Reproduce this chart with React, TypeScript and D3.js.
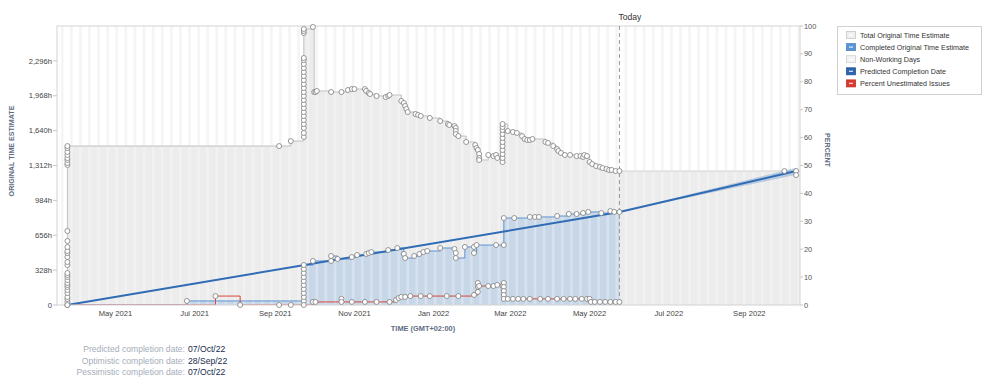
import React from 'react';
import * as d3 from 'd3';

type Pt = [string, number];

const xDomain = ['2021-03-17', '2022-10-10'];
const todayDate = '2022-05-24';
const hourTicks = [0, 328, 656, 984, 1312, 1640, 1968, 2296];
const hourMax = 2624;
const percentTicks = [0, 10, 20, 30, 40, 50, 60, 70, 80, 90, 100];

const totalEstimate: Pt[] = [
  ['2021-03-25', 0], ['2021-03-25', 28], ['2021-03-25', 56], ['2021-03-25', 75], ['2021-03-25', 113], ['2021-03-25', 141],
  ['2021-03-25', 169], ['2021-03-25', 188], ['2021-03-25', 207], ['2021-03-25', 235], ['2021-03-25', 263], ['2021-03-25', 282],
  ['2021-03-25', 301], ['2021-03-25', 376], ['2021-03-25', 404], ['2021-03-25', 451], ['2021-03-25', 489], ['2021-03-25', 508],
  ['2021-03-25', 545], ['2021-03-25', 602], ['2021-03-25', 696], ['2021-03-25', 1317], ['2021-03-25', 1336], ['2021-03-25', 1364],
  ['2021-03-25', 1382], ['2021-03-25', 1411], ['2021-03-25', 1439], ['2021-03-25', 1476], ['2021-03-25', 1495],
  ['2021-09-04', 1495], ['2021-09-13', 1542],
  ['2021-09-23', 1580], ['2021-09-23', 1618], ['2021-09-23', 1665], ['2021-09-23', 1702], ['2021-09-23', 1740], ['2021-09-23', 1778],
  ['2021-09-23', 1815], ['2021-09-23', 1853], ['2021-09-23', 1890], ['2021-09-23', 1928], ['2021-09-23', 1966], ['2021-09-23', 2003],
  ['2021-09-23', 2041], ['2021-09-23', 2078], ['2021-09-23', 2116], ['2021-09-23', 2154], ['2021-09-23', 2191], ['2021-09-23', 2229],
  ['2021-09-23', 2267], ['2021-09-23', 2304], ['2021-09-23', 2323], ['2021-09-23', 2558], ['2021-09-23', 2577], ['2021-09-23', 2596],
  ['2021-09-30', 2615], ['2021-10-01', 2003], ['2021-10-02', 2003], ['2021-10-03', 2013], ['2021-10-14', 2003], ['2021-10-22', 2003],
  ['2021-10-27', 2022], ['2021-10-30', 2031], ['2021-11-01', 2031], ['2021-11-09', 2031], ['2021-11-10', 2013], ['2021-11-12', 1994],
  ['2021-11-13', 1984], ['2021-11-18', 1966], ['2021-11-25', 1956], ['2021-11-27', 1966], ['2021-11-28', 1975], ['2021-12-07', 1919],
  ['2021-12-09', 1900], ['2021-12-10', 1872], ['2021-12-11', 1843], ['2021-12-12', 1815], ['2021-12-18', 1796], ['2021-12-20', 1787],
  ['2021-12-22', 1778], ['2021-12-29', 1759], ['2022-01-06', 1730], ['2022-01-12', 1702], ['2022-01-13', 1693], ['2022-01-17', 1683],
  ['2022-01-18', 1665], ['2022-01-18', 1637], ['2022-01-18', 1608], ['2022-01-20', 1589], ['2022-01-26', 1533], ['2022-02-02', 1505],
  ['2022-02-03', 1476], ['2022-02-04', 1458], ['2022-02-05', 1420], ['2022-02-05', 1383], ['2022-02-05', 1364], ['2022-02-12', 1411],
  ['2022-02-16', 1401], ['2022-02-18', 1411], ['2022-02-19', 1383], ['2022-02-23', 1345], ['2022-02-23', 1383], ['2022-02-23', 1420],
  ['2022-02-23', 1458], ['2022-02-23', 1495], ['2022-02-23', 1533], ['2022-02-23', 1571], ['2022-02-23', 1608], ['2022-02-23', 1646],
  ['2022-02-23', 1674], ['2022-02-23', 1702], ['2022-02-27', 1636], ['2022-03-03', 1627], ['2022-03-06', 1618], ['2022-03-10', 1589],
  ['2022-03-12', 1561], ['2022-03-14', 1552], ['2022-03-16', 1552], ['2022-03-18', 1561], ['2022-03-28', 1533], ['2022-03-30', 1524],
  ['2022-04-03', 1495], ['2022-04-06', 1467], ['2022-04-07', 1448], ['2022-04-09', 1430], ['2022-04-12', 1411], ['2022-04-16', 1411],
  ['2022-04-21', 1401], ['2022-04-24', 1401], ['2022-04-26', 1392], ['2022-04-27', 1411], ['2022-04-29', 1401], ['2022-05-01', 1345],
  ['2022-05-03', 1326], ['2022-05-06', 1307], ['2022-05-09', 1298], ['2022-05-11', 1288], ['2022-05-14', 1279], ['2022-05-16', 1270],
  ['2022-05-18', 1270], ['2022-05-21', 1260], ['2022-05-24', 1260],
];
const totalAfterToday: Pt[] = [['2022-05-24', 1260], ['2022-10-10', 1260]];

const completedEstimate: Pt[] = [
  ['2021-03-25', 0], ['2021-06-25', 38], ['2021-09-23', 38], ['2021-09-23', 75], ['2021-09-23', 113], ['2021-09-23', 150],
  ['2021-09-23', 188], ['2021-09-23', 226], ['2021-09-23', 263], ['2021-09-23', 301], ['2021-09-23', 339], ['2021-09-23', 376],
  ['2021-09-30', 414], ['2021-10-14', 414], ['2021-10-14', 461], ['2021-10-19', 433], ['2021-10-30', 451], ['2021-11-03', 470],
  ['2021-11-10', 480], ['2021-11-12', 489], ['2021-11-14', 498], ['2021-11-27', 517], ['2021-12-04', 536], ['2021-12-09', 480],
  ['2021-12-10', 442], ['2021-12-17', 461], ['2021-12-21', 480], ['2021-12-24', 498], ['2021-12-27', 508], ['2022-01-06', 536],
  ['2022-01-17', 527], ['2022-01-18', 489], ['2022-01-18', 442], ['2022-01-25', 546], ['2022-02-01', 546], ['2022-02-01', 489],
  ['2022-02-03', 564], ['2022-02-18', 564], ['2022-02-24', 564], ['2022-02-24', 818], ['2022-03-04', 818], ['2022-03-16', 828],
  ['2022-03-20', 828], ['2022-03-23', 828], ['2022-04-06', 837], ['2022-04-15', 856], ['2022-04-21', 856], ['2022-04-26', 865],
  ['2022-04-30', 875], ['2022-05-10', 865], ['2022-05-17', 884], ['2022-05-20', 875], ['2022-05-24', 875],
];

const percentUnestimated: Pt[] = [
  ['2021-03-25', 0], ['2021-07-17', 3.2], ['2021-08-05', 0], ['2021-09-04', 0], ['2021-09-13', 0], ['2021-09-23', 0],
  ['2021-09-30', 1.1], ['2021-10-02', 1.1], ['2021-10-22', 2.2], ['2021-10-22', 1.1], ['2021-10-30', 1.1], ['2021-11-09', 1.1],
  ['2021-11-18', 1.1], ['2021-11-28', 1.1], ['2021-12-03', 1.8], ['2021-12-05', 2.5], ['2021-12-07', 2.9], ['2021-12-10', 2.9],
  ['2021-12-14', 3.2], ['2021-12-22', 3.2], ['2021-12-29', 3.2], ['2022-01-11', 3.2], ['2022-01-20', 3.2], ['2022-02-01', 3.6],
  ['2022-02-04', 4.7], ['2022-02-04', 6.5], ['2022-02-04', 7.9], ['2022-02-05', 6.8], ['2022-02-12', 6.8], ['2022-02-16', 6.8],
  ['2022-02-19', 7.2], ['2022-02-23', 6.8], ['2022-02-24', 7.9], ['2022-02-24', 6.5], ['2022-02-24', 5.0], ['2022-02-24', 3.6],
  ['2022-02-24', 2.2], ['2022-02-27', 2.2], ['2022-03-03', 2.2], ['2022-03-07', 2.2], ['2022-03-11', 2.2], ['2022-03-16', 2.2],
  ['2022-03-24', 2.2], ['2022-03-30', 2.2], ['2022-04-06', 2.2], ['2022-04-11', 2.2], ['2022-04-16', 2.2], ['2022-04-20', 2.2],
  ['2022-04-25', 2.2], ['2022-04-29', 2.2], ['2022-05-01', 2.2], ['2022-05-02', 1.1], ['2022-05-05', 1.1], ['2022-05-09', 1.1],
  ['2022-05-13', 1.1], ['2022-05-17', 1.1], ['2022-05-21', 1.1], ['2022-05-24', 1.1],
];

const predictedLine: Pt[] = [['2021-03-25', 0], ['2022-05-24', 875], ['2022-10-07', 1260]];
const bandUpper: Pt[] = [['2022-05-24', 875], ['2022-10-07', 1290]];
const bandLower: Pt[] = [['2022-05-24', 875], ['2022-10-07', 1225]];
const predictedMarkers: Pt[] = [['2022-09-28', 1260], ['2022-10-07', 1260], ['2022-10-07', 1222]];

const legendLabels = [
  'Total Original Time Estimate',
  'Completed Original Time Estimate',
  'Non-Working Days',
  'Predicted Completion Date',
  'Percent Unestimated Issues',
];
const summaryLabels = ['Predicted completion date:', 'Optimistic completion date:', 'Pessimistic completion date:'];
const summaryValues = ['07/Oct/22', '28/Sep/22', '07/Oct/22'];

const FONT = '"Liberation Sans", Arial, Helvetica, sans-serif';
const L = 57, R = 800, T = 26, B = 305;

export default function App() {
  const parse = d3.timeParse('%Y-%m-%d');
  const p = (s: string) => parse(s) as Date;
  const x = d3.scaleTime().domain(xDomain.map(p)).range([L, R]);
  const y = d3.scaleLinear().domain([0, hourMax]).range([B, T]);
  const yp = d3.scaleLinear().domain([0, 100]).range([B, T]);

  const area = (sc: d3.ScaleLinear<number, number>) =>
    d3.area<Pt>().curve(d3.curveStepAfter).x(d => x(p(d[0]))).y0(B).y1(d => sc(d[1]));
  const line = (sc: d3.ScaleLinear<number, number>, curve: any = d3.curveStepAfter) =>
    d3.line<Pt>().curve(curve).x(d => x(p(d[0]))).y(d => sc(d[1]));

  const [d0, d1] = xDomain.map(p);
  const saturdays = d3.timeDay.range(d3.timeDay.offset(d0, -2), d1).filter(d => d.getDay() === 6);
  const stripes = saturdays.map(s => {
    const a = Math.max(L, x(s));
    const b = Math.min(R, x(d3.timeDay.offset(s, 2)));
    return { a, w: Math.max(0, b - a) };
  }).filter(s => s.w > 0);

  const xTicks = x.ticks(d3.timeMonth.every(2) as any);
  const fmtMonth = d3.timeFormat('%b %Y');
  const fmtHours = (v: number) => (v === 0 ? '0' : d3.format(',')(v) + 'h');
  const xToday = x(p(todayDate));

  const bandPoly = [...bandUpper, ...bandLower.slice().reverse()];
  const bandPath = d3.line<Pt>().x(d => x(p(d[0]))).y(d => y(d[1]))(bandPoly) + 'Z';

  const marker = (d: Pt, sc: d3.ScaleLinear<number, number>, k: string) => (
    <circle key={k} cx={x(p(d[0]))} cy={sc(d[1])} r={2.5} fill="#fff" stroke="#7d7d7d" strokeWidth={0.8} />
  );

  const legendColors = [
    { fill: '#efefef', stroke: '#c6c6c6', bar: '#ffffff' },
    { fill: '#5b95d6', stroke: '#4a84c6', bar: '#cfe0f3' },
    { fill: '#f3f3f3', stroke: '#d0d0d0', bar: '#ffffff' },
    { fill: '#2c64ad', stroke: '#22579b', bar: '#c9d8ee' },
    { fill: '#d8392c', stroke: '#c22f23', bar: '#f5c7c2' },
  ];

  return (
    <svg width={998} height={382} style={{ position: 'absolute', left: 0, top: 0, background: '#fff' }} fontFamily={FONT}>
      <defs>
        <clipPath id="plot">
          <rect x={L} y={T} width={R - L} height={B - T} />
        </clipPath>
      </defs>
      <g>
        {stripes.map((s, i) => (
          <rect key={'s' + i} x={s.a} y={T} width={s.w} height={B - T} fill="#f2f2f2" />
        ))}
      </g>
      <g clipPath="url(#plot)">
        <path d={area(y)(totalEstimate) || ''} fill="#ececec" />
        <path d={area(y)(totalAfterToday) || ''} fill="#ececec" />
        <path d={area(y)(completedEstimate) || ''} fill="#c8d7e8" />
        {stripes.map((s, i) => (
          <rect key={'o' + i} x={s.a} y={T} width={s.w} height={B - T} fill="#ffffff" opacity={0.28} />
        ))}
        <path d={line(y)(totalEstimate) || ''} fill="none" stroke="#c2c2c2" strokeWidth={1} />
        <path d={line(y)(totalAfterToday) || ''} fill="none" stroke="#d4d4d4" strokeWidth={1} />
        <path d={line(y)(completedEstimate) || ''} fill="none" stroke="#5c94d4" strokeWidth={1} />
        <path d={line(yp)(percentUnestimated) || ''} fill="none" stroke="#d9473b" strokeWidth={1} />
        <path d={bandPath} fill="#3a76c0" opacity={0.3} />
        <path d={line(y, d3.curveLinear)(predictedLine) || ''} fill="none" stroke="#2f6cb4" strokeWidth={2} />
      </g>
      <rect x={L} y={T} width={R - L} height={B - T} fill="none" stroke="#d3d3d3" strokeWidth={1} />
      <line x1={xToday} x2={xToday} y1={T} y2={B} stroke="#9a9a9a" strokeWidth={1} strokeDasharray="4,3" />
      <text x={xToday - 1} y={20} fontSize={8.6} fill="#333">Today</text>
      <g>
        {totalEstimate.map((d, i) => marker(d, y, 't' + i))}
        {completedEstimate.slice(1).map((d, i) => marker(d, y, 'c' + i))}
        {percentUnestimated.map((d, i) => marker(d, yp, 'r' + i))}
        {predictedMarkers.map((d, i) => marker(d, y, 'p' + i))}
      </g>
      <g>
        {hourTicks.map(v => (
          <g key={'h' + v}>
            <line x1={L - 4} x2={L} y1={y(v)} y2={y(v)} stroke="#c8c8c8" />
            <text x={L - 5} y={y(v)} dy="0.35em" textAnchor="end" fontSize={7.6} fill="#444">{fmtHours(v)}</text>
          </g>
        ))}
      </g>
      <g>
        {percentTicks.map(v => (
          <g key={'p' + v}>
            <line x1={R} x2={R + 3} y1={yp(v)} y2={yp(v)} stroke="#c8c8c8" />
            <text x={R + 4} y={yp(v)} dy="0.35em" textAnchor="start" fontSize={7.4} fill="#555">{v}</text>
          </g>
        ))}
      </g>
      <g>
        {xTicks.map((d, i) => (
          <text key={'x' + i} x={x(d)} y={316} textAnchor="middle" fontSize={7.6} fill="#444">{fmtMonth(d)}</text>
        ))}
      </g>
      <text transform="translate(14,151) rotate(-90)" textAnchor="middle" fontSize={7.1} fontWeight="bold" fill="#5e6c84">ORIGINAL TIME ESTIMATE</text>
      <text transform="translate(825,150) rotate(90)" textAnchor="middle" fontSize={7.1} fontWeight="bold" fill="#5e6c84">PERCENT</text>
      <text x={423} y={331} textAnchor="middle" fontSize={7.4} fontWeight="bold" fill="#5e6c84">TIME (GMT+02:00)</text>
      <g>
        <rect x={837.5} y={26.5} width={144} height={68} fill="#fff" stroke="#d0d0d0" />
        {legendLabels.map((lab, i) => {
          const cy = 35 + i * 12.1;
          const c = legendColors[i];
          return (
            <g key={'l' + i}>
              <rect x={846.5} y={cy - 3.5} width={9} height={7} fill={c.fill} stroke={c.stroke} strokeWidth={0.8} />
              <rect x={849} y={cy - 0.7} width={4} height={1.4} fill={c.bar} />
              <text x={860} y={cy} dy="0.35em" fontSize={7.2} fill="#333">{lab}</text>
            </g>
          );
        })}
      </g>
      <g>
        {summaryLabels.map((lab, i) => (
          <g key={'m' + i}>
            <text x={185} y={352 + i * 11.7} textAnchor="end" fontSize={8.6} fill="#a5adba">{lab}</text>
            <text x={188} y={352 + i * 11.7} fontSize={8.6} fill="#172b4d">{summaryValues[i]}</text>
          </g>
        ))}
      </g>
    </svg>
  );
}
